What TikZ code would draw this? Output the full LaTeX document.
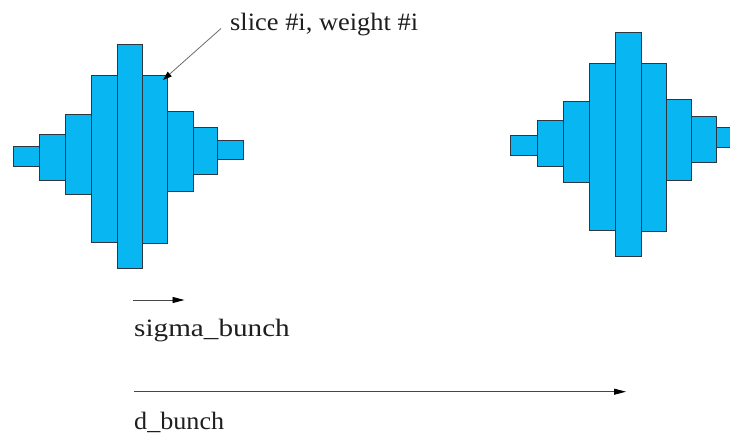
\documentclass[tikz,border=0pt]{standalone}
\usepackage{fontspec}
\setmainfont{Liberation Serif}
\usetikzlibrary{arrows.meta}

\definecolor{slicefill}{RGB}{8,182,242}
\definecolor{sliceedge}{RGB}{45,55,65}
\definecolor{inkgray}{RGB}{70,70,70}
\definecolor{txt}{RGB}{30,30,30}

\tikzset{
  bar/.style={draw=sliceedge, fill=slicefill, line width=0.9pt,
    inner sep=0pt, outer sep=0pt, rectangle, anchor=north west},
  label/.style={font=\fontsize{25pt}{28pt}\selectfont, text=txt,
    inner sep=0pt, anchor=base west},
  leader/.style={draw=inkgray!80, line width=0.8pt,
    -{Triangle[length=9pt,width=6pt,color=black]}},
  measure/.style={draw=inkgray, line width=0.9pt,
    -{Triangle[length=12pt,width=6pt,color=black]}}
}

\begin{document}
\begin{tikzpicture}[x=1pt,y=-1pt]
  \useasboundingbox (0,0) rectangle (730,434);
  \clip (0,0) rectangle (730,434);

  % first bunch: nine slices, left edge / right edge / top / bottom
  \foreach \i/\l/\r/\t/\b in {
      1/13.3/39.3/146.7/166.7,
      2/39.3/65.0/134.0/180.0,
      3/65.0/91.7/114.3/194.3,
      4/91.7/117.3/75.7/242.3,
      5/117.3/142.7/44.0/268.3,
      6/142.7/167.7/75.7/243.3,
      7/167.7/193.3/111.7/191.7,
      8/193.3/217.7/127.3/174.3,
      9/217.7/243.3/140.0/159.3}
    \node[bar, minimum width={(\r-\l)*1pt}, minimum height={(\b-\t)*1pt}]
      (L\i) at (\l,\t) {};

  % second bunch
  \foreach \i/\l/\r/\t/\b in {
      1/510.0/537.3/135.7/155.0,
      2/537.3/563.3/120.7/166.7,
      3/563.3/589.3/101.7/182.3,
      4/589.3/615.0/63.3/230.7,
      5/615.0/641.0/32.7/256.0,
      6/641.0/666.0/63.3/231.7,
      7/666.0/691.0/99.3/180.0,
      8/691.0/716.0/116.7/162.7,
      9/716.0/741.6/127.7/147.7}
    \node[bar, minimum width={(\r-\l)*1pt}, minimum height={(\b-\t)*1pt}]
      (R\i) at (\l,\t) {};

  % labels
  \node[label, xscale=1.057] (slice) at (230,30) {slice \#i, weight \#i};
  \node[label, xscale=1.167] (sigma) at (134,336.5) {sigma\_bunch};
  \node[label, xscale=1.045] (dist)  at (134,429) {d\_bunch};

  % pointer from the label to one slice
  \draw[leader] ([xshift=-9pt,yshift=1.5pt]slice.base west)
    -- ([xshift=-4.7pt,yshift=-4.3pt]L6.north east);

  % length arrows
  \coordinate (s0) at (132.7,300);
  \coordinate (s1) at (184.5,300);
  \coordinate (d0) at (134,391.7);
  \coordinate (d1) at (626,391.7);
  \draw[measure] (s0) -- (s1);
  \draw[measure] (d0) -- (d1);
\end{tikzpicture}
\end{document}
